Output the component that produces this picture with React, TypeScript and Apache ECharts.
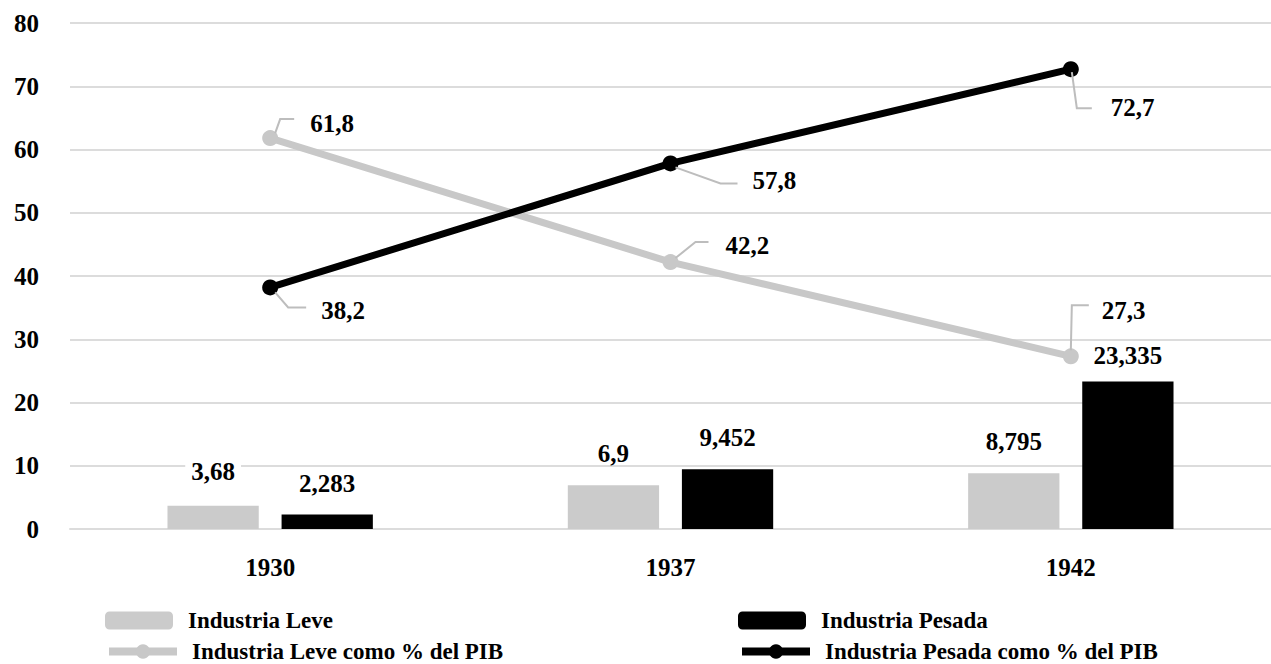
import React, { useEffect, useRef } from "react";
import * as echarts from "echarts";

// Years on the category axis
const years = ["1930", "1937", "1942"];

// Output of each industry (bars)
const leve = [3.68, 6.9, 8.795];
const pesada = [2.283, 9.452, 23.335];

// Share of GDP, in percent (lines)
const levePib = [61.8, 42.2, 27.3];
const pesadaPib = [38.2, 57.8, 72.7];

// Value axis ticks
const yMin = 0;
const yMax = 80;
const yStep = 10;

const names = {
  leve: "Industria Leve",
  pesada: "Industria Pesada",
  levePib: "Industria Leve como % del PIB",
  pesadaPib: "Industria Pesada como % del PIB",
};

const FONT = "'Liberation Serif', 'Times New Roman', serif";
const GRAY = "#cbcbcb";
const LINE_GRAY = "#c8c8c8";
const GUIDE = "#bdbdbd";

const fmt = (v: number) => String(v).replace(".", ",");

// Callout layout for the percentage labels: guide polyline and text anchor,
// both as pixel offsets from the data point.
type Callout = { line: number[][]; text: number[] };
const levePibCallouts: Callout[] = [
  { line: [[5, -5], [10, -19], [24, -19]], text: [40, -15] },
  { line: [[5, -4], [25, -20], [38, -20]], text: [55, -17] },
  { line: [[0, -6], [1, -51], [18, -51]], text: [31, -46] },
];
const pesadaPibCallouts: Callout[] = [
  { line: [[5, 5], [18, 20], [36, 20]], text: [51, 23] },
  { line: [[5, 4], [50, 20], [67, 20]], text: [82, 17] },
  { line: [[1, 3], [6, 39], [21, 39]], text: [40, 38] },
];

function calloutSeries(id: string, values: number[], callouts: Callout[]) {
  return {
    type: "custom",
    id,
    name: id,
    silent: true,
    z: 10,
    data: values.map((v, i) => [i, v]),
    renderItem: (params: any, api: any) => {
      const i = params.dataIndex;
      const p = api.coord([api.value(0), api.value(1)]);
      const c = callouts[i];
      return {
        type: "group",
        children: [
          {
            type: "polyline",
            shape: { points: c.line.map(([dx, dy]) => [p[0] + dx, p[1] + dy]) },
            style: { stroke: GUIDE, lineWidth: 2, fill: null },
          },
          {
            type: "text",
            x: p[0] + c.text[0],
            y: p[1] + c.text[1],
            style: {
              text: fmt(values[i]),
              fill: "#000",
              font: `bold 25px ${FONT}`,
              align: "left",
              verticalAlign: "middle",
            },
          },
        ],
      };
    },
  };
}

const barLabel = {
  show: true,
  position: "top",
  distance: 19,
  color: "#000",
  fontFamily: FONT,
  fontWeight: "bold",
  fontSize: 25,
  formatter: (p: any) => fmt(p.value),
};

// One legend block per entry, laid out as two columns of two rows
const legendSlots = [
  { name: names.leve, left: 105, top: 609 },
  { name: names.levePib, left: 105, top: 640 },
  { name: names.pesada, left: 738, top: 609 },
  { name: names.pesadaPib, left: 738, top: 640 },
];

export default function App() {
  const ref = useRef<HTMLDivElement>(null);

  useEffect(() => {
    if (!ref.current) return;
    const chart = echarts.init(ref.current, null, { renderer: "svg" });

    const leveData = leve.map((v, i) =>
      i === 0
        ? { value: v, label: { backgroundColor: "#fff", padding: [3, 6] } }
        : v
    );
    const pesadaData = pesada.map((v, i) =>
      i === 2 ? { value: v, label: { distance: 13 } } : v
    );

    chart.setOption({
      animation: false,
      backgroundColor: "#fff",
      grid: { left: 70, right: -11, top: 23, bottom: 135, containLabel: false },
      xAxis: {
        type: "category",
        data: years,
        axisLine: { show: true, lineStyle: { color: "#dcdcdc", width: 2 } },
        axisTick: { show: false },
        axisLabel: {
          margin: 26,
          color: "#000",
          fontFamily: FONT,
          fontWeight: "bold",
          fontSize: 25,
        },
      },
      yAxis: {
        type: "value",
        min: yMin,
        max: yMax,
        interval: yStep,
        axisLine: { show: false },
        axisTick: { show: false },
        splitLine: { lineStyle: { color: "#dcdcdc", width: 2 } },
        axisLabel: {
          margin: 31,
          color: "#000",
          fontFamily: FONT,
          fontWeight: "bold",
          fontSize: 25,
        },
      },
      legend: legendSlots.map((s) => ({
        left: s.left,
        top: s.top,
        padding: 0,
        itemWidth: 68,
        itemHeight: 18,
        data: [s.name],
        lineStyle: { width: 8 },
        textStyle: {
          color: "#000",
          fontFamily: FONT,
          fontWeight: "bold",
          fontSize: 23,
          padding: [0, 0, 0, 10],
        },
      })),
      series: [
        {
          name: names.leve,
          type: "bar",
          data: leveData,
          barWidth: "22.8%",
          barGap: "25%",
          itemStyle: { color: GRAY },
          label: barLabel,
        },
        {
          name: names.pesada,
          type: "bar",
          data: pesadaData,
          barWidth: "22.8%",
          barGap: "25%",
          itemStyle: { color: "#000" },
          label: barLabel,
        },
        {
          name: names.levePib,
          type: "line",
          data: levePib,
          symbol: "circle",
          symbolSize: 16,
          lineStyle: { color: LINE_GRAY, width: 7 },
          itemStyle: { color: LINE_GRAY },
          z: 3,
        },
        {
          name: names.pesadaPib,
          type: "line",
          data: pesadaPib,
          symbol: "circle",
          symbolSize: 16,
          lineStyle: { color: "#000", width: 7 },
          itemStyle: { color: "#000" },
          z: 4,
        },
        calloutSeries("levePibLabels", levePib, levePibCallouts),
        calloutSeries("pesadaPibLabels", pesadaPib, pesadaPibCallouts),
      ],
    });

    return () => chart.dispose();
  }, []);

  return (
    <div
      ref={ref}
      style={{ position: "absolute", left: 0, top: 0, width: 1271, height: 664 }}
    />
  );
}
